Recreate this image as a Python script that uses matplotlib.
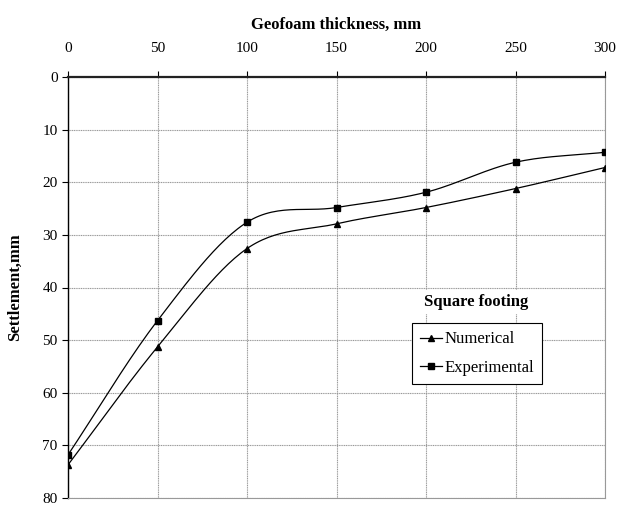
import numpy as np
import matplotlib.pyplot as plt

plt.rcParams['font.family'] = ['Liberation Serif', 'DejaVu Serif']

thickness = [0, 50, 100, 150, 200, 250, 300]
numerical = [73.7, 51.3, 32.6, 27.9, 24.8, 21.2, 17.2]
experimental = [71.8, 46.3, 27.6, 24.8, 21.9, 16.2, 14.3]


def smooth(x, y, n=30):
    # Catmull-Rom curve through the points, like a spreadsheet "smoothed line"
    x = np.asarray(x, float)
    y = np.asarray(y, float)
    px = np.concatenate([[2 * x[0] - x[1]], x, [2 * x[-1] - x[-2]]])
    py = np.concatenate([[2 * y[0] - y[1]], y, [2 * y[-1] - y[-2]]])
    xs, ys = [], []
    t = np.linspace(0, 1, n)
    for i in range(1, len(px) - 2):
        for p, out in ((px, xs), (py, ys)):
            p0, p1, p2, p3 = p[i - 1], p[i], p[i + 1], p[i + 2]
            out.extend(0.5 * (2 * p1 + (-p0 + p2) * t
                              + (2 * p0 - 5 * p1 + 4 * p2 - p3) * t ** 2
                              + (-p0 + 3 * p1 - 3 * p2 + p3) * t ** 3))
    return xs, ys


fig = plt.figure(figsize=(6.27, 5.08), dpi=100)
ax = fig.add_axes([68 / 627, 10 / 508, 537 / 627, 421 / 508])

for vals, mk, label in ((numerical, '^', 'Numerical'), (experimental, 's', 'Experimental')):
    sx, sy = smooth(thickness, vals)
    ax.plot(sx, sy, color='black', lw=0.9, zorder=3)
    ax.plot(thickness, vals, linestyle='none', marker=mk, color='black', ms=4.8, zorder=4)
    ax.plot([], [], color='black', lw=0.9, marker=mk, ms=4.5, label=label)

ax.set_xlim(0, 300)
ax.set_ylim(80, 0)
ax.set_xticks(thickness)
ax.set_yticks(range(0, 81, 10))
ax.xaxis.tick_top()
ax.xaxis.set_label_position('top')
ax.tick_params(axis='both', labelsize=11, length=4, width=0.8, direction='out')
ax.tick_params(axis='x', pad=12)
ax.set_xlabel('Geofoam thickness, mm', fontsize=12, fontweight='bold', labelpad=9)
ax.set_ylabel('Settlement,mm', fontsize=12, fontweight='bold', labelpad=14)

ax.grid(True, color='#999999', lw=0.8, linestyle=(0, (1, 0.6)))
ax.spines['left'].set_color('black')
ax.spines['top'].set_color('#222222')
ax.spines['left'].set_linewidth(1.0)
ax.spines['top'].set_linewidth(1.6)
for side in ('right', 'bottom'):
    ax.spines[side].set_color('#999999')
    ax.spines[side].set_linewidth(0.8)

leg = ax.legend(loc='upper left', bbox_to_anchor=((412 - 68) / 537, 1 - (323 - 77) / 421),
                fontsize=12, frameon=True, fancybox=False, edgecolor='black',
                handlelength=1.3, handletextpad=0.15, borderpad=0.5, labelspacing=0.75,
                borderaxespad=0)
leg.get_frame().set_linewidth(0.8)
leg.get_frame().set_alpha(1)

ax.text((476 - 68) / 537 * 300, (302 - 77) / 421 * 80, 'Square footing', fontsize=12,
        fontweight='bold', ha='center', va='center', zorder=5,
        bbox=dict(facecolor='white', edgecolor='none', pad=3))

fig.savefig('out.png', dpi=100)
